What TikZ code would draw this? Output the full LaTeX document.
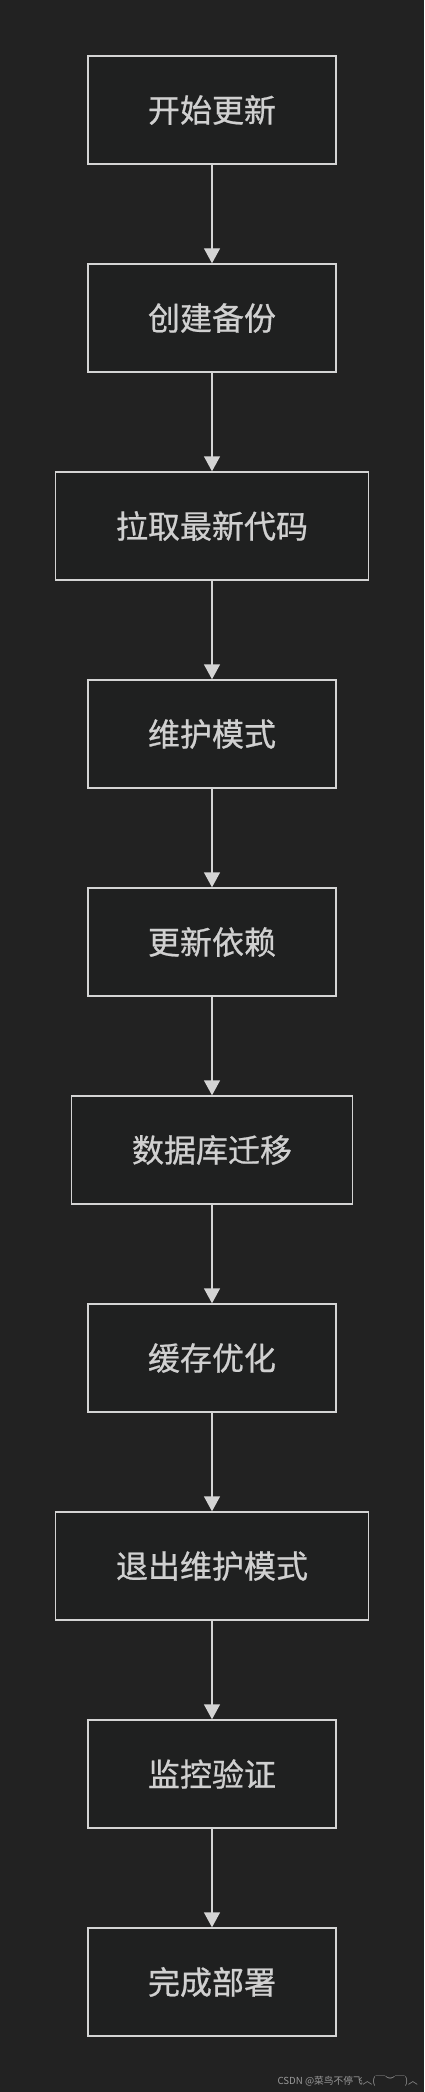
\documentclass[tikz,border=0pt]{standalone}
\usepackage{fontspec}
\setmainfont{Noto Sans CJK SC}
\newfontfamily\cjk{Noto Sans CJK SC}
\newfontfamily\cjkb[FakeBold=0.7]{Noto Sans CJK SC}
\usetikzlibrary{arrows.meta}
\definecolor{bgc}{HTML}{222222}
\definecolor{boxfill}{HTML}{1F2020}
\definecolor{linec}{HTML}{D4D4D4}
\definecolor{txtc}{HTML}{D0D0D0}
\definecolor{wmc}{HTML}{9A9A9A}
\begin{document}
\begin{tikzpicture}[x=1pt,y=-1pt,
  stepbox/.style={draw=linec, line width=1.4pt, fill=boxfill, minimum height=108pt, inner sep=0pt,
    text=txtc, font=\cjkb\fontsize{32}{36}\selectfont},
  conn/.style={draw=linec, line width=1.4pt, -{Triangle[width=16pt,length=15pt]}}]
\fill[bgc] (0,0) rectangle (424,2092);
\useasboundingbox (0,0) rectangle (424,2092);
\node[stepbox, minimum width=248pt] (n1) at (212,110) {开始更新};
\node[stepbox, minimum width=248pt] (n2) at (212,318) {创建备份};
\node[stepbox, minimum width=313pt] (n3) at (212,526) {拉取最新代码};
\node[stepbox, minimum width=248pt] (n4) at (212,734) {维护模式};
\node[stepbox, minimum width=248pt] (n5) at (212,942) {更新依赖};
\node[stepbox, minimum width=281pt] (n6) at (212,1150) {数据库迁移};
\node[stepbox, minimum width=248pt] (n7) at (212,1358) {缓存优化};
\node[stepbox, minimum width=313pt] (n8) at (212,1566) {退出维护模式};
\node[stepbox, minimum width=248pt] (n9) at (212,1774) {监控验证};
\node[stepbox, minimum width=248pt] (n10) at (212,1982) {完成部署};
\foreach \a/\b in {n1/n2,n2/n3,n3/n4,n4/n5,n5/n6,n6/n7,n7/n8,n8/n9,n9/n10}
  \draw[conn] (\a.south) -- (\b.north);
\node[anchor=east, text=wmc, font=\cjk\fontsize{9.7}{11}\selectfont, inner sep=0pt] (wm) at (418,2081) {CSDN @菜鸟不停飞︿(￣︶￣)︿};
\end{tikzpicture}
\end{document}
